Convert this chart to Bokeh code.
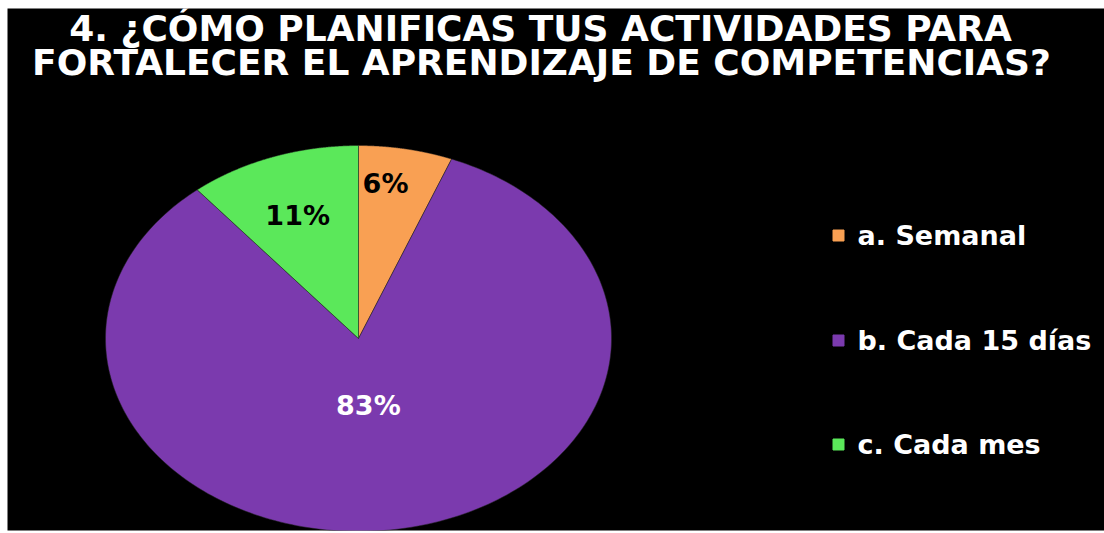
import numpy as np
from bokeh.plotting import figure
from bokeh.models import Range1d, ColumnDataSource
from bokeh.core.properties import value
from bokeh.embed import file_html
from bokeh.resources import INLINE

# ---- data ----
title_lines = ["4. ¿CÓMO PLANIFICAS TUS ACTIVIDADES PARA",
               "FORTALECER EL APRENDIZAJE DE COMPETENCIAS?"]
categories = ["a. Semanal", "b. Cada 15 días", "c. Cada mes"]
percents = [6, 83, 11]
colors = ["#F9A053", "#7B3AAE", "#5BE85A"]
label_colors = ["black", "white", "black"]

# ---- layout (data coords == page pixels, y down) ----
FONT = "DejaVu Sans"
X0, X1, Y0, Y1 = 7, 1104, 8, 530
cx, cy = 358, 338
rx, ry = 253, 193

p = figure(width=1104, height=533, output_backend="svg", toolbar_location=None,
           x_range=Range1d(X0, X1), y_range=Range1d(Y1, Y0),
           min_border=0, min_border_left=X0, min_border_top=Y0,
           min_border_bottom=533 - Y1, min_border_right=0,
           background_fill_color="black",
           border_fill_color="white", outline_line_color=None)
p.xaxis.visible = False
p.yaxis.visible = False
p.grid.visible = False

# pie slices (clockwise from top)
total = float(sum(percents))
fracs = np.array(percents) / total
ends = np.cumsum(fracs)
starts = ends - fracs
xs, ys = [], []
for s, e in zip(starts, ends):
    t = np.linspace(s, e, 240) * 2 * np.pi
    xs.append([cx] + list(cx + rx * np.sin(t)) + [cx])
    ys.append([cy] + list(cy - ry * np.cos(t)) + [cy])
src = ColumnDataSource(dict(xs=xs, ys=ys, color=colors, cat=categories))
p.patches("xs", "ys", source=src, fill_color="color",
          line_color="#222222", line_width=1, line_alpha=0.5)

# percentage labels (radial placement per slice)
mids = (starts + ends) / 2 * 2 * np.pi
radial = [(0.57, 0.82), (0.25, 0.35), (0.71, 0.68)]
lx = [cx + rx * f[0] * np.sin(m) for m, f in zip(mids, radial)]
ly = [cy - ry * f[1] * np.cos(m) for m, f in zip(mids, radial)]
lsrc = ColumnDataSource(dict(x=lx, y=ly, t=[f"{v}%" for v in percents],
                             c=label_colors))
p.text("x", "y", text="t", source=lsrc, text_color="c",
       text_font=value(FONT), text_font_style="bold",
       text_font_size="27px", text_align="center", text_baseline="middle")

# title
p.text(x=[540, 541], y=[28, 62], text=title_lines,
       text_color="white", text_font=value(FONT), text_font_style="bold",
       text_font_size="36px", text_align="center", text_baseline="middle")

# legend (manual)
leg_y = [235, 340, 444]
p.scatter(x=[838] * 3, y=leg_y, marker="square", size=11,
          fill_color=colors, line_color=colors)
p.text(x=[857] * 3, y=leg_y, text=categories, text_color="white",
       text_font=value(FONT), text_font_style="bold",
       text_font_size="27px", text_align="left", text_baseline="middle")

open("out.html", "w").write(file_html(p, INLINE))
